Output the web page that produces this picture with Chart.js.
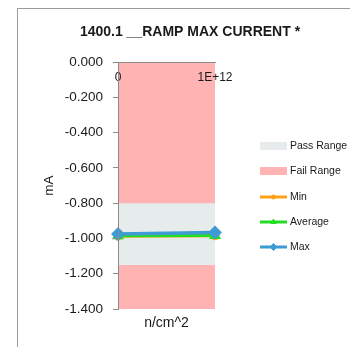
<!DOCTYPE html>
<html>
<head>
<meta charset="utf-8">
<script src="https://cdn.jsdelivr.net/npm/chart.js@4/dist/chart.umd.min.js"></script>
<style>
  html, body { margin: 0; padding: 0; background: #fff; }
  #wrap { width: 350px; height: 347px; }
</style>
</head>
<body>
<div id="wrap"><canvas id="c" width="350" height="347"></canvas></div>
<script>
// ---- data ----
const categories = ['0', '1E+12'];
const minValues = [-0.987, -0.985];
const avgValues = [-0.985, -0.983];
const maxValues = [-0.975, -0.966];
const passUpper = [-0.8, -0.8];
const passLower = [-1.15, -1.15];
const failTop = [0, 0];
const yTicks = [0, -0.2, -0.4, -0.6, -0.8, -1.0, -1.2, -1.4];
const chartTitle = '1400.1 __RAMP MAX CURRENT *';
const xTitle = 'n/cm^2';
const yTitle = 'mA';

const FONT = '"Liberation Sans", Arial, sans-serif';
const TEXT = '#1a1a1a';
const AXIS = '#8c8c8c';

const COLORS = {
  pass: '#E6EBEB',
  fail: '#FFB3B3',
  min: '#FFA21A',
  avg: '#22DD22',
  max: '#3E9BD3'
};

const chromePlugin = {
  id: 'chrome',
  beforeDraw(chart) {
    const ctx = chart.ctx;
    ctx.save();
    ctx.fillStyle = '#fff';
    ctx.fillRect(0, 0, chart.width, chart.height);
    ctx.strokeStyle = '#9a9a9a';
    ctx.lineWidth = 1;
    ctx.beginPath();
    ctx.moveTo(17.5, chart.height);
    ctx.lineTo(17.5, 8.5);
    ctx.lineTo(chart.width, 8.5);
    ctx.stroke();
    ctx.restore();
  },
  afterDraw(chart) {
    const ctx = chart.ctx;
    const area = chart.chartArea;
    ctx.save();
    // title
    ctx.fillStyle = TEXT;
    ctx.font = 'bold 14px ' + FONT;
    ctx.textAlign = 'center';
    ctx.textBaseline = 'middle';
    ctx.fillText(chartTitle, 190, 32);
    // x title
    ctx.font = '14px ' + FONT;
    ctx.fillText(xTitle, (area.left + area.right) / 2, 323);
    // legend
    const items = [0, 1, 2, 3, 4].map(i => chart.data.datasets[i]);
    const ys = [146, 171, 197, 222, 247];
    ctx.font = '10.5px ' + FONT;
    ctx.textAlign = 'left';
    items.forEach((ds, k) => {
      const y = ys[k];
      if (ds.legendKind === 'box') {
        ctx.fillStyle = ds.backgroundColor;
        ctx.fillRect(260, y - 4, 27, 8);
      } else {
        ctx.strokeStyle = ds.borderColor;
        ctx.lineWidth = 3;
        ctx.beginPath();
        ctx.moveTo(260, y);
        ctx.lineTo(287, y);
        ctx.stroke();
        ctx.fillStyle = ds.pointBackgroundColor;
        ctx.strokeStyle = ds.pointBorderColor;
        ctx.lineWidth = 1;
        Chart.helpers.drawPoint(ctx, {
          pointStyle: ds.pointStyle,
          radius: ds.pointRadius - 1,
          borderWidth: 1
        }, 273.5, y);
      }
      ctx.fillStyle = TEXT;
      ctx.fillText(ds.label, 290, y);
    });
    ctx.restore();
  }
};

const ctx = document.getElementById('c').getContext('2d');
new Chart(ctx, {
  type: 'line',
  data: {
    labels: categories,
    datasets: [
      {
        label: 'Pass Range', legendKind: 'box', data: passUpper,
        fill: { value: passLower[0] }, backgroundColor: COLORS.pass,
        borderWidth: 0, pointRadius: 0, order: 9
      },
      {
        label: 'Fail Range', legendKind: 'box', data: failTop,
        fill: 'start', backgroundColor: COLORS.fail,
        borderWidth: 0, pointRadius: 0, order: 10
      },
      {
        label: 'Min', data: minValues, borderColor: COLORS.min, backgroundColor: COLORS.min,
        pointBackgroundColor: COLORS.min, pointBorderColor: COLORS.min,
        borderWidth: 3, pointStyle: 'circle', pointRadius: 3, fill: false, clip: false, order: 3
      },
      {
        label: 'Average', data: avgValues, borderColor: COLORS.avg, backgroundColor: COLORS.avg,
        pointBackgroundColor: COLORS.avg, pointBorderColor: COLORS.avg,
        borderWidth: 3, pointStyle: 'triangle', pointRadius: 4, fill: false, clip: false, order: 2
      },
      {
        label: 'Max', data: maxValues, borderColor: COLORS.max, backgroundColor: COLORS.max,
        pointBackgroundColor: COLORS.max, pointBorderColor: COLORS.max,
        borderWidth: 3.5, pointStyle: 'rectRot', pointRadius: 4.5, fill: false, clip: false, order: 1
      }
    ]
  },
  options: {
    responsive: false,
    animation: false,
    devicePixelRatio: 1,
    layout: { padding: { left: 37, right: 135, top: 62, bottom: 38 } },
    plugins: {
      legend: { display: false },
      title: { display: false },
      tooltip: { enabled: false }
    },
    elements: { line: { tension: 0 } },
    scales: {
      x: {
        type: 'category',
        position: { y: 0 },
        offset: false,
        grid: { display: true, drawOnChartArea: false, drawTicks: false, color: AXIS, z: 1 },
        border: { display: true, color: AXIS, width: 1, z: 1 },
        ticks: { z: 1, color: TEXT, font: { family: FONT, size: 12 }, padding: 8, maxRotation: 0, autoSkip: false }
      },
      y: {
        type: 'linear',
        position: 'left',
        min: -1.4,
        max: 0,
        afterBuildTicks(scale) { scale.ticks = yTicks.map(v => ({ value: v })); },
        afterFit(scale) { scale.width = 81; },
        grid: { display: true, drawOnChartArea: false, drawTicks: true, tickLength: 5, color: AXIS, z: 1 },
        border: { display: true, color: AXIS, width: 1, z: 1 },
        ticks: {
          color: TEXT, font: { family: FONT, size: 13.5 }, padding: 10,
          callback: v => Number(v).toFixed(3)
        },
        title: { display: true, text: yTitle, color: TEXT, font: { family: FONT, size: 13.5 }, padding: { top: 4, bottom: 4 } }
      }
    }
  },
  plugins: [chromePlugin]
});
</script>
</body>
</html>
